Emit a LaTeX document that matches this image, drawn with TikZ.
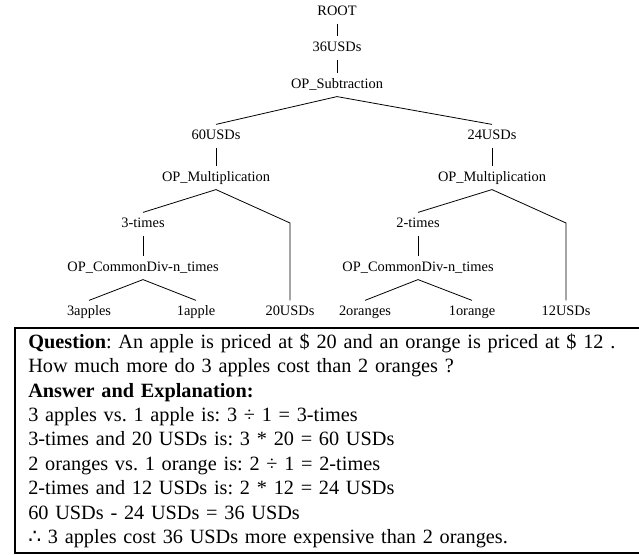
\documentclass[tikz,border=0pt]{standalone}
\usepackage{fontspec}
\setmainfont{Liberation Serif}
\newfontfamily\thereforefont{DejaVu Sans}

\begin{document}
\begin{tikzpicture}[x=0.75pt,y=-0.75pt,
        treenode/.style={font=\fontsize{10.8}{12}\selectfont, inner sep=4pt,
            text height=0.7em, text depth=0.2em},
        edge/.style={line width=0.6pt},
        qabox/.style={draw, line width=1.5pt, anchor=north west, align=left,
            text width=455pt, inner xsep=10pt, inner ysep=3pt,
            minimum height=169pt, font=\fontsize{15.2}{18.3}\selectfont}]
    \useasboundingbox (0,0) rectangle (639,555);
    % Upper part of the tree
    \foreach \name/\txt/\x/\y in {root/ROOT/337/12, u36/36USDs/337/48,
        sub/OP\_Subtraction/337/85} {
        \node[treenode] (\name) at (\x,\y) {\txt};
    }
    % Left branch
    \foreach \name/\txt/\x/\y in {u60/60USDs/216/136, mulL/OP\_Multiplication/216/178,
        t3/3-times/143/224, divL/OP\_CommonDiv-n\_times/143/268,
        ap3/3apples/89/312, ap1/1apple/196/312, u20/20USDs/290/312} {
        \node[treenode] (\name) at (\x,\y) {\txt};
    }
    % Right branch
    \foreach \name/\txt/\x/\y in {u24/24USDs/492/136, mulR/OP\_Multiplication/492/178,
        t2/2-times/418/224, divR/OP\_CommonDiv-n\_times/418/268,
        or2/2oranges/365/312, or1/1orange/472/312, u12/12USDs/566/312} {
        \node[treenode] (\name) at (\x,\y) {\txt};
    }
    \coordinate (bendL) at (290,223);
    \coordinate (bendR) at (566,223);
    % Edges
    \foreach \a/\b in {root/u36, u36/sub, sub/u60, sub/u24, u60/mulL, u24/mulR,
        mulL/t3, mulR/t2, t3/divL, t2/divR, divL/ap3, divL/ap1, divR/or2, divR/or1} {
        \draw[edge] (\a.south) -- (\b.north);
    }
    \draw[edge] (mulL.south) -- (bendL) -- (u20.north);
    \draw[edge] (mulR.south) -- (bendR) -- (u12.north);
    % Question and answer
    \node[qabox] (qa) at (14,327) {\frenchspacing
        \textbf{Question}: An apple is priced at \$ 20 and an orange is priced at \$ 12 .\\
        How much more do 3 apples cost than 2 oranges ?\\
        \textbf{Answer and Explanation:}\\
        3 apples vs. 1 apple is: 3 ÷ 1 = 3-times\\
        3-times and 20 USDs is: 3 * 20 = 60 USDs\\
        2 oranges vs. 1 orange is: 2 ÷ 1 = 2-times\\
        2-times and 12 USDs is: 2 * 12 = 24 USDs\\
        60 USDs - 24 USDs = 36 USDs\\
        {\thereforefont ∴} 3 apples cost 36 USDs more expensive than 2 oranges.};
\end{tikzpicture}
\end{document}
